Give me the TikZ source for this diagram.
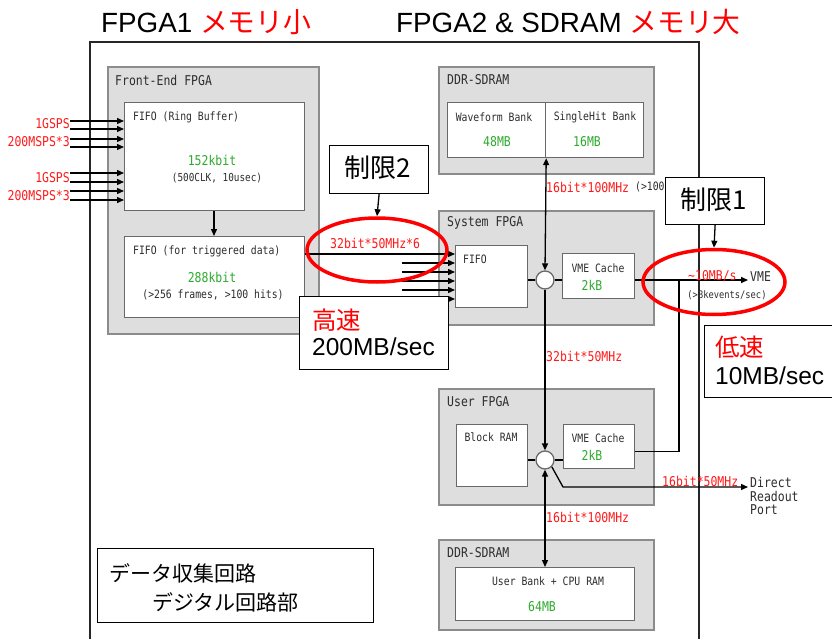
\documentclass[tikz,border=0pt]{standalone}
\usepackage{fontspec}
\setmainfont{Liberation Sans}
\newfontfamily\jp{Noto Sans CJK JP}
\newfontfamily\monof[FakeStretch=0.85]{DejaVu Sans Mono}
\usetikzlibrary{arrows.meta,shapes.geometric,calc}
\definecolor{boxgray}{RGB}{222,222,222}
\definecolor{edgegray}{RGB}{140,140,140}
\definecolor{innergray}{RGB}{105,105,105}
\definecolor{lblred}{RGB}{255,25,25}
\definecolor{lblgreen}{RGB}{45,170,45}
\definecolor{txtdark}{RGB}{45,45,45}
\newcommand{\lblbig}{\monof\fontsize{13.5}{15}\selectfont}
\newcommand{\lblsmall}{\monof\fontsize{11.5}{13}\selectfont}
\newcommand{\lbltiny}{\monof\fontsize{10.3}{12}\selectfont}
\tikzset{
  container/.style={draw=edgegray, fill=boxgray, line width=1.8pt, anchor=north west, inner sep=0pt},
  innerbox/.style={draw=innergray, fill=white, line width=1.2pt, anchor=north west, inner sep=0pt},
  callout/.style={draw=black, fill=white, line width=1.2pt, anchor=north west, inner sep=0pt},
  conn/.style={draw=black, line width=1.3pt},
  tip/.style={-{Triangle[length=7pt,width=6pt]}},
  dtip/.style={{Triangle[length=7pt,width=6pt]}-{Triangle[length=7pt,width=6pt]}},
  junction/.style={circle, draw=innergray, fill=white, line width=1.3pt, minimum size=18pt, inner sep=0pt},
  ctitle/.style={anchor=west, inner sep=0pt, font=\lblbig, text=txtdark},
  btext/.style={inner sep=0pt, font=\lblsmall, text=txtdark},
  gval/.style={inner sep=0pt, font=\lblbig, text=lblgreen},
  rlbl/.style={anchor=west, inner sep=0pt, font=\lblbig, text=lblred},
  limit/.style={ellipse, draw=red, line width=3.5pt, inner sep=0pt},
  bigtxt/.style={anchor=base west, inner sep=0pt, font=\fontsize{27.8}{30}\selectfont},
  calltxt/.style={anchor=west, inner sep=0pt, font=\fontsize{24.5}{28}\selectfont},
}
\begin{document}
\begin{tikzpicture}[x=1pt, y=-1pt]
\useasboundingbox (0,0) rectangle (832,639);
\fill[white] (0,0) rectangle (832,639);

% titles
\node[bigtxt] (t1) at (101,33) {FPGA1 {\color{red}\jp メモリ小}};
\node[bigtxt] (t2) at (396,33) {FPGA2 \& SDRAM {\color{red}\jp メモリ大}};

% outer frame
\draw[black!85, line width=1.4pt] (90,639) -- (90,42) -- (699,42) -- (699,639);

% Front-End FPGA
\node[container, minimum width=211pt, minimum height=267pt] (fe) at (107,66) {};
\node[ctitle] (fet) at (115,80) {Front-End FPGA};
\node[innerbox, minimum width=180pt, minimum height=108pt] (fifo1) at (124,102) {};
\node[innerbox, minimum width=180pt, minimum height=81pt] (fifo2) at (124,236) {};
\node[btext, anchor=west] (f1t) at (133,117) {FIFO (Ring Buffer)};
\node[gval] (f1v) at (212,160) {152kbit};
\node[btext, font=\monof\fontsize{11}{12}\selectfont] (f1s) at (217,178) {(500CLK, 10usec)};
\node[btext, anchor=west] (f2t) at (133,251) {FIFO (for triggered data)};
\node[gval] (f2v) at (212,277) {288kbit};
\node[btext] (f2s) at (213,295) {(>256 frames, >100 hits)};
\draw[conn, tip] (fifo1.south -| 214,0) -- (fifo2.north -| 214,0);

% DDR-SDRAM top
\node[container, minimum width=215pt, minimum height=107pt] (ddr1) at (438,66) {};
\node[ctitle] (ddr1t) at (447,80) {DDR-SDRAM};
\node[innerbox, minimum width=98pt, minimum height=55pt] (wfb) at (447,102) {};
\node[innerbox, minimum width=98pt, minimum height=55pt] (shb) at (545,102) {};
\node[btext] (wfbt) at (494,117) {Waveform Bank};
\node[gval] (wfbv) at (497,142) {48MB};
\node[btext] (shbt) at (595,117) {SingleHit Bank};
\node[gval] (shbv) at (587,142) {16MB};

% System FPGA
\node[container, minimum width=215pt, minimum height=114pt] (sys) at (438,210) {};
\node[ctitle] (syst) at (447,223) {System FPGA};
\node[innerbox, minimum width=72pt, minimum height=62pt] (sfifo) at (455,245) {};
\node[btext, anchor=west] (sfifot) at (463,259) {FIFO};
\node[junction] (c1) at (545,280) {};
\node[innerbox, minimum width=72pt, minimum height=45pt] (svme) at (562,253) {};
\node[btext] (svmet) at (598,268) {VME Cache};
\node[gval] (svmev) at (592,285) {2kB};

% User FPGA
\node[container, minimum width=215pt, minimum height=116pt] (usr) at (438,388) {};
\node[ctitle] (usrt) at (447,402) {User FPGA};
\node[innerbox, minimum width=71pt, minimum height=62pt] (bram) at (456,424) {};
\node[btext] (bramt) at (491,437) {Block RAM};
\node[junction] (c2) at (545,460) {};
\node[innerbox, minimum width=71pt, minimum height=44pt] (uvme) at (563,424) {};
\node[btext] (uvmet) at (598,438) {VME Cache};
\node[gval] (uvmev) at (592,455) {2kB};

% DDR-SDRAM bottom
\node[container, minimum width=215pt, minimum height=90pt] (ddr2) at (438,539) {};
\node[ctitle] (ddr2t) at (447,553) {DDR-SDRAM};
\node[innerbox, minimum width=179pt, minimum height=53pt] (ddr2in) at (455,567) {};
\node[btext] (ddr2int) at (548,581) {User Bank + CPU RAM};
\node[gval] (ddr2inv) at (542,607) {64MB};

% inputs
\foreach \i/\yy in {1/121,2/129,3/139,4/147,5/173,6/182,7/191,8/200}{
  \coordinate (in\i) at (70,\yy);
  \draw[conn, tip] (in\i) -- (in\i -| fifo1.west);
}
\node[rlbl, anchor=east] (l1) at (70,124) {1GSPS};
\node[rlbl, anchor=east] (l2) at (70,142) {200MSPS*3};
\node[rlbl, anchor=east] (l3) at (70,178) {1GSPS};
\node[rlbl, anchor=east] (l4) at (70,196) {200MSPS*3};

% front-end to system FIFO
\coordinate (a1) at ($(fifo2.north east)+(0,18)$);
\draw[conn, tip] (a1) -- (a1 -| sfifo.west);
\foreach \i/\yy in {2/263,3/272,4/281,5/290,6/299}{
  \coordinate (a\i) at (402,\yy);
  \draw[conn, tip] (a\i) -- (a\i -| sfifo.west);
}
\node[rlbl] (r1) at (330,243) {32bit*50MHz*6};

% system FPGA internal
\draw[conn, dtip] (wfb.south east) -- (c1.north);
\draw[conn] (sfifo.east |- c1) -- (c1.west);
\draw[conn] (c1.east) -- (svme.west |- c1);
\coordinate (vmeout) at (748,280);
\coordinate (jn) at (679,280);
\draw[conn, tip] (svme.east |- c1) -- (vmeout);
\draw[conn] ($(uvme.south east)+(0,-18)$) -| (jn);
\node[rlbl] (r2) at (546,187) {16bit*100MHz};
\node[btext, anchor=west] (r2b) at (635,187) {(>100};
\node[rlbl] (r3) at (688,276) {\char`~10MB/s};
\node[btext, anchor=west, font=\lblbig] (vmet) at (750,277) {VME};
\node[btext, font=\lbltiny] (vmes) at (727,295) {(>8kevents/sec)};

% system to user
\draw[conn, tip] (c1.south) -- (c2.north);
\node[rlbl] (r4) at (546,356) {32bit*50MHz};
\draw[conn] (bram.east |- c2) -- (c2.west);
\draw[conn] (c2.east) -- (uvme.west |- c2);
\coordinate (bend) at (563,487);
\coordinate (dro) at (748,487);
\draw[conn, tip] (c2.-45) -- (bend) -- (dro);
\node[rlbl] (r5) at (662,481) {16bit*50MHz};
\node[btext, anchor=west, font=\lblbig] (dr1) at (750,482) {Direct};
\node[btext, anchor=west, font=\lblbig] (dr2) at (750,496) {Readout};
\node[btext, anchor=west, font=\lblbig] (dr3) at (750,510) {Port};

% user to bottom DDR
\draw[conn, dtip] (c2.south) -- (c2.south |- ddr2in.north);
\node[rlbl] (r6) at (546,517) {16bit*100MHz};

% limit ellipses
\node[limit, minimum width=140pt, minimum height=64pt] (e2) at (377,250) {};
\node[limit, minimum width=142pt, minimum height=65pt] (e1) at (714,282) {};

% callouts
\node[callout, minimum width=99pt, minimum height=48pt] (lim2) at (329,145) {};
\node[inner sep=0pt, font=\jp\fontsize{26}{28}\selectfont] (lim2t) at (378,168) {制限2};
\draw[conn, tip] (lim2.south) -- (e2.north);
\node[callout, minimum width=99pt, minimum height=47pt] (lim1) at (665,177) {};
\node[inner sep=0pt, font=\jp\fontsize{26}{28}\selectfont] (lim1t) at (714,200) {制限1};
\draw[conn, tip] (lim1.south) -- (e1.north);

\node[callout, minimum width=149pt, minimum height=73pt] (hs) at (299,296) {};
\node[calltxt, text=red, font=\jp\fontsize{24.5}{28}\selectfont] (hs1) at (312,320) {高速};
\node[calltxt] (hs2) at (312,347) {200MB/sec};

\node[callout, minimum width=140pt, minimum height=72pt] (ls) at (704,325) {};
\node[calltxt, text=red, font=\jp\fontsize{24.5}{28}\selectfont] (ls1) at (715,347) {低速};
\node[calltxt] (ls2) at (715,376) {10MB/sec};

\node[callout, minimum width=276pt, minimum height=74pt] (dq) at (97,548) {};
\node[anchor=west, inner sep=0pt, font=\jp\fontsize{21}{24}\selectfont] (dq1) at (109,573) {データ収集回路};
\node[anchor=west, inner sep=0pt, font=\jp\fontsize{21}{24}\selectfont] (dq2) at (152,602) {デジタル回路部};
\end{tikzpicture}
\end{document}
